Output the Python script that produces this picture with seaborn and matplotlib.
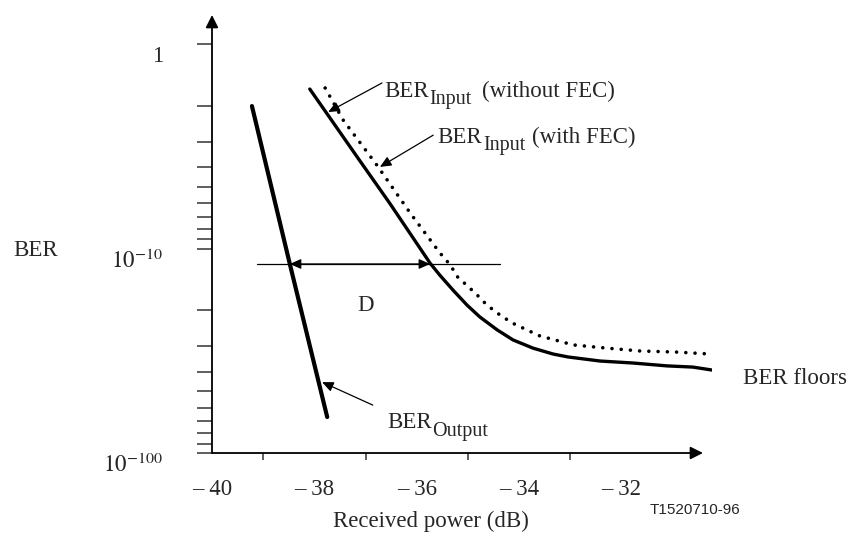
import matplotlib
matplotlib.use("Agg")
import matplotlib.pyplot as plt
import matplotlib.transforms as mtransforms
from matplotlib.ticker import NullFormatter
import pandas as pd
import seaborn as sns

# received power (dB) vs BER decades (-log10 BER)
power_fec = [-38.09, -37.17, -36.52, -35.74, -35.55, -35.29, -35.02, -34.77,
             -34.43, -34.12, -33.73, -33.34, -33.05, -32.42, -31.78, -31.11,
             -30.61, -30.23]
ber_fec = [1.66, 3.55, 6.05, 11.8, 13.5, 16.0, 18.9, 21.6,
           25.0, 28.0, 30.7, 32.8, 33.9, 35.5, 36.3, 37.5,
           38.0, 39.3]

power_nofec = [-37.79, -37.44, -36.78, -36.13, -35.55, -35.35, -35.20, -34.86,
               -34.63, -34.38, -34.14, -33.85, -33.59, -33.30, -32.95, -32.29,
               -31.64, -30.92, -30.27]
ber_nofec = [1.64, 2.35, 3.91, 6.70, 10.5, 12.0, 13.8, 16.5,
             18.9, 21.1, 23.1, 25.0, 26.8, 28.0, 29.6, 30.7,
             31.7, 32.1, 32.8]

power_out = [-39.22, -38.48, -37.75]
ber_out = [2.01, 11.9, 66.7]

# D marker: horizontal line and the two arrow tips
d_level = 11.9
d_line = [-39.12, -34.38]
d_tips = [-38.48, -35.74]

ber_ticks = [1, 10, 100]
ber_ticklabels = ["1", r"$10^{-10}$", r"$10^{-100}$"]
ber_minor = [2, 3, 4, 5, 6, 7, 8, 9, 20, 30, 40, 50, 60, 70, 80, 90]
power_ticks = [-40, -38, -36, -34, -32]
power_ticklabels = ["\u2013 40", "\u2013 38", "\u2013 36", "\u2013 34", "\u2013 32"]
power_minor = [-39, -37, -35, -33]

sns.set_theme(style="white")
plt.rcParams["font.family"] = ["Liberation Serif", "DejaVu Serif"]
plt.rcParams["mathtext.fontset"] = "stix"
FS = 16.5

df_fec = pd.DataFrame({"power": power_fec, "ber": ber_fec})
df_nofec = pd.DataFrame({"power": power_nofec, "ber": ber_nofec})
df_out = pd.DataFrame({"power": power_out, "ber": ber_out})

fig = plt.figure(figsize=(8.51, 5.38), dpi=100)
ax = fig.add_axes([212 / 851, 85 / 538, 500 / 851, 438 / 538])

sns.lineplot(data=df_nofec, x="power", y="ber", ax=ax, color="black", lw=2.6,
             linestyle=(0, (0.01, 2.55)), dash_capstyle="round")
sns.lineplot(data=df_fec, x="power", y="ber", ax=ax, color="black", lw=2.4,
             solid_joinstyle="round")
sns.lineplot(data=df_out, x="power", y="ber", ax=ax, color="black", lw=3.0)

ax.set_yscale("log")
ax.set_xlim(-40, -40 + 500 / 51.2)
ax.set_ylim(100, 0.721)
for s in ax.spines.values():
    s.set_visible(False)
ax.set_xlabel("")
ax.set_ylabel("")

# axes drawn as arrows
axis_arrow = dict(arrowstyle="-|>,head_length=0.5,head_width=0.25", color="black",
                  lw=1.3, mutation_scale=15, shrinkA=0, shrinkB=0)
ax.annotate("", xy=(-40, 0.721), xytext=(-40, 100), arrowprops=axis_arrow,
            annotation_clip=False)
ax.annotate("", xy=(-40 + 491 / 51.2, 100), xytext=(-40, 100), arrowprops=axis_arrow,
            annotation_clip=False)

ax.set_yticks(ber_ticks)
ax.set_yticks(ber_minor, minor=True)
ax.set_yticklabels(ber_ticklabels)
ax.yaxis.set_minor_formatter(NullFormatter())
ax.tick_params(axis="y", which="both", left=True, direction="out", length=10.8,
               width=1.1, color="#333333", pad=24.5, labelsize=FS)
shift = mtransforms.ScaledTranslation(0, -0.10, fig.dpi_scale_trans)
for lab in ax.get_yticklabels():
    lab.set_transform(lab.get_transform() + shift)

ax.set_xticks(power_ticks)
ax.set_xticklabels(power_ticklabels)
ax.set_xticks(power_minor, minor=True)
ax.tick_params(axis="x", which="major", bottom=True, length=0, pad=19, labelsize=FS)
ax.tick_params(axis="x", which="minor", bottom=True, direction="out", length=5,
               width=1.1, color="#333333")

# distance D
ax.plot(d_line, [d_level, d_level], color="black", lw=0.9)
ax.annotate("", xy=(d_tips[0], d_level), xytext=(d_tips[1], d_level),
            arrowprops=dict(arrowstyle="<|-|>,head_length=0.45,head_width=0.2",
                            color="black", lw=0.9, mutation_scale=15,
                            shrinkA=0, shrinkB=0))
ax.text(-37.01, 18.9, "D", fontsize=FS, ha="center", va="center")

pointer = dict(arrowstyle="-|>,head_length=0.45,head_width=0.2", color="black",
               lw=0.9, mutation_scale=15, shrinkA=0, shrinkB=0)
ax.annotate("", xy=(-37.73, 2.15), xytext=(-36.68, 1.55), arrowprops=pointer)
ax.annotate("", xy=(-36.72, 3.99), xytext=(-35.68, 2.79), arrowprops=pointer)
ax.annotate("", xy=(-37.85, 45.0), xytext=(-36.86, 58.3), arrowprops=pointer)


def ber_label(x, y, sub, tail="", gap=4.0, drop=5.0):
    main = ax.text(x, y, "BER", fontsize=FS, ha="left", va="baseline", clip_on=False)
    s = ax.annotate(sub, xy=(1, 0), xycoords=main, xytext=(0.3, -drop),
                    textcoords="offset points", fontsize=14.5, ha="left", va="bottom")
    if tail:
        ax.annotate(tail, xy=(1, 0), xycoords=s, xytext=(gap, drop),
                    textcoords="offset points", fontsize=FS, ha="left", va="bottom")


ber_label(-36.64, 1.82, "Input", "(without FEC)", gap=8.0)
ber_label(-35.59, 3.05, "Input", "(with FEC)", gap=5.0)
ber_label(-36.58, 75.5, "Output", drop=6.0)
ax.text(-29.63, 46.0, "BER floors", fontsize=FS, ha="left", va="baseline", clip_on=False)

fig.text(13 / 851, 1 - 256 / 538, "BER", fontsize=FS, ha="left", va="baseline")
fig.text(431 / 851, 1 - 527 / 538, "Received power (dB)", fontsize=FS,
         ha="center", va="baseline")
fig.text(650 / 851, 1 - 514 / 538, "T1520710-96", fontsize=11,
         family="Liberation Sans", ha="left", va="baseline")

fig.savefig("out.png", dpi=100)
